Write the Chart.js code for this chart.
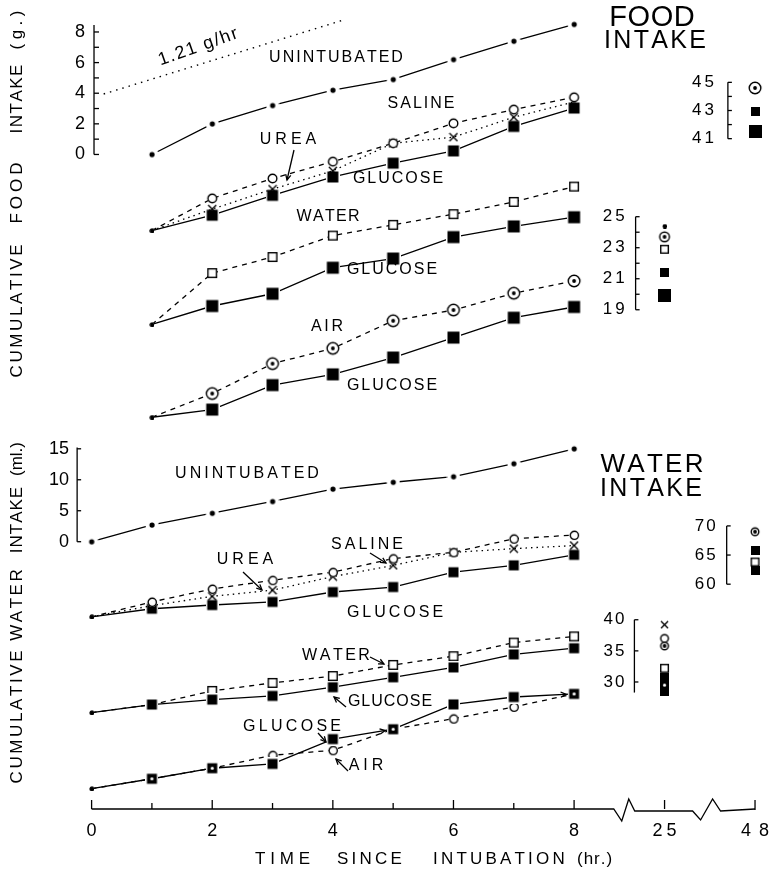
<!DOCTYPE html>
<html><head><meta charset="utf-8">
<script src="https://cdn.jsdelivr.net/npm/chart.js@4.4.0/dist/chart.umd.min.js"></script>
<style>html,body{margin:0;padding:0;background:#fff;overflow:hidden}#wrap{width:773px;height:873px;position:relative}</style>
</head><body><div id="wrap"><canvas id="c" width="773" height="873"></canvas></div>
<script>
// ---------------- DATA ----------------
const foodHours  = [1, 2, 3, 4, 5, 6, 7, 8];
const waterHours = [0, 1, 2, 3, 4, 5, 6, 7, 8];

// Cumulative food intake (g)
const foodUnintubated = [0, 2.0, 3.2, 4.2, 4.9, 6.2, 7.4, 8.5];
const foodSaline      = [0, 2.1, 3.4, 4.5, 5.7, 7.0, 7.9, 8.7];
const foodUrea        = [0, 1.4, 2.7, 3.9, 5.7, 6.1, 7.4, 8.4];
const foodGlucoseA    = [0, 1.0, 2.3, 3.5, 4.4, 5.2, 6.8, 8.0];
const foodWater       = [0, 3.35, 4.4, 5.8, 6.5, 7.2, 8.0, 9.0];
const foodGlucoseB    = [0, 1.2, 2.0, 3.7, 4.3, 5.7, 6.4, 7.0];
const foodAir         = [0, 1.55, 3.5, 4.5, 6.3, 7.0, 8.1, 8.9];
const foodGlucoseC    = [0, 0.5, 2.1, 2.8, 3.9, 5.2, 6.5, 7.2];
// 1.21 g/hr reference line (end points: hour, g)
const foodRateHours  = [0.2, 4.15];
const foodRateValues = [3.95, 8.75];

// Cumulative water intake (ml)
const waterUnintubated = [0, 2.7, 4.6, 6.5, 8.5, 9.6, 10.5, 12.6, 15.0];
const waterSaline      = [0, 2.4, 4.5, 5.9, 7.2, 9.4, 10.4, 12.6, 13.2];
const waterUrea        = [0, 1.8, 3.3, 4.3, 6.5, 8.3, 10.4, 11.0, 11.5];
const waterGlucoseA    = [0, 1.3, 1.9, 2.4, 4.0, 4.8, 7.2, 8.3, 10.0];
const waterWater       = [0, 1.3, 3.5, 4.8, 5.9, 7.7, 9.1, 11.3, 12.3];
const waterGlucoseB    = [0, 1.3, 2.1, 2.7, 4.1, 5.7, 7.3, 9.4, 10.4];
const waterGlucoseC    = [0, 1.6, 3.3, 4.0, 8.0, 9.6, 13.6, 14.8, 15.3];
const waterAir         = [0, 1.6, 3.3, 5.4, 6.2, 9.6, 11.3, 13.2, 15.3];

// 25 hr and 48 hr totals (insets)
const food48Groups  = ['AIR', 'GLUCOSE', 'GLUCOSE'];
const food48Values  = [44.6, 42.9, 41.5];
const food25Groups  = ['UNINTUBATED', 'AIR', 'WATER', 'GLUCOSE', 'GLUCOSE'];
const food25Values  = [24.4, 23.7, 22.9, 21.4, 19.95];
const water48Groups = ['AIR', 'GLUCOSE', 'WATER', 'GLUCOSE'];
const water48Values = [69.0, 65.7, 63.8, 62.3];
const water25Groups = ['UREA', 'SALINE', 'AIR', 'WATER', 'GLUCOSE', 'AIR', 'GLUCOSE'];
const water25Values = [39.2, 37.0, 35.8, 32.2, 30.8, 29.5, 28.4];

// Tick labels
const timeTickHours  = [0, 2, 4, 6, 8, 25, 48];
const foodTicks      = [0, 2, 4, 6, 8];
const waterTicks     = [0, 5, 10, 15];
const food48Ticks    = [41, 43, 45];
const food25Ticks    = [19, 21, 23, 25];
const water48Ticks   = [60, 65, 70];
const water25Ticks   = [30, 35, 40];

// ---------------- LAYOUT ----------------
const W = 773, H = 873;
const X0 = 87.5, PXH = 61.15;                 // pixel of hour 0, pixels per hour
const axisPos = h => h === 25 ? 9.5 : h === 48 ? 11 : h;  // broken time axis
function yScale(zeroPix, k) { return { type: 'linear', display: false, min: -(H - zeroPix) / k, max: zeroPix / k }; }
const scales = {
  x:    { type: 'linear', display: false, min: -X0 / PXH, max: (W - X0) / PXH },
  yF0:  yScale(151, 15.5), yF1: yScale(228, 15.5), yF2: yScale(323, 15.5), yF3: yScale(417, 15.5),
  yF48: yScale(78 + 45 * 14.25, 14.25), yF25: yScale(214 + 25 * 15.7, 15.7),
  yW0:  yScale(543, 6.27), yW1: yScale(619, 6.27), yW2: yScale(716, 6.27), yW3: yScale(793, 6.27),
  yW48: yScale(527 + 70 * 5.9, 5.9), yW25: yScale(622 + 40 * 6.3, 6.3)
};

// ---------------- MARKERS ----------------
function mark(w, fn) { const c = document.createElement('canvas'); c.width = w; c.height = w; const g = c.getContext('2d'); fn(g, w / 2); return c; }
const fillSq = (s, halo) => mark(s + 2 * halo, (g, m) => { g.fillStyle = '#fff'; g.fillRect(0, 0, s + 2 * halo, s + 2 * halo); g.fillStyle = '#000'; g.fillRect(halo, halo, s, s); });
const openSq = s => mark(s + 2, (g, m) => { g.fillStyle = '#fff'; g.fillRect(1, 1, s, s); g.strokeStyle = '#000'; g.lineWidth = 1.4; g.strokeRect(1.7, 1.7, s - 1.4, s - 1.4); });
const openCirc = r => mark(2 * r + 3, (g, m) => { g.fillStyle = '#fff'; g.beginPath(); g.arc(m, m, r, 0, 7); g.fill(); g.strokeStyle = '#000'; g.lineWidth = 1.4; g.beginPath(); g.arc(m, m, r - 0.7, 0, 7); g.stroke(); });
const circDot = r => mark(2 * r + 3, (g, m) => { g.fillStyle = '#fff'; g.beginPath(); g.arc(m, m, r, 0, 7); g.fill(); g.strokeStyle = '#000'; g.lineWidth = 1.4; g.beginPath(); g.arc(m, m, r - 0.7, 0, 7); g.stroke(); g.fillStyle = '#000'; g.beginPath(); g.arc(m, m, 1.9, 0, 7); g.fill(); });
const cross = s => mark(s + 2, (g, m) => { g.strokeStyle = '#000'; g.lineWidth = 1.4; const d = s / 2; g.beginPath(); g.moveTo(m - d, m - d); g.lineTo(m + d, m + d); g.moveTo(m + d, m - d); g.lineTo(m - d, m + d); g.stroke(); });
const dotHalo = (r, h) => mark(2 * (r + h) + 1, (g, m) => { g.fillStyle = '#fff'; g.beginPath(); g.arc(m, m, r + h, 0, 7); g.fill(); g.fillStyle = '#000'; g.beginPath(); g.arc(m, m, r, 0, 7); g.fill(); });
const sqDot = (s, halo) => mark(s + 2 * halo, (g, m) => { g.fillStyle = '#fff'; g.fillRect(0, 0, s + 2 * halo, s + 2 * halo); g.fillStyle = '#000'; g.fillRect(halo, halo, s, s); g.fillStyle = '#fff'; g.beginPath(); g.arc(m, m, 1.6, 0, 7); g.fill(); });
const startDot = dotHalo(2.3, 0);
const uDot = dotHalo(2.6, 4);

function series(hours, vals, yAxisID, marker, dash, extra) {
  return Object.assign({
    data: hours.map((h, i) => ({ x: h, y: vals[i] })),
    yAxisID, borderColor: '#000', borderWidth: 1.3, borderDash: dash || [],
    pointStyle: c => c.dataIndex === 0 ? startDot : marker,
    pointRadius: 3, fill: false, tension: 0
  }, extra || {});
}
function inset(hour, vals, yAxisID, markers) {
  return vals.map((v, i) => ({ data: [{ x: axisPos(hour), y: v }], yAxisID, showLine: false, pointStyle: markers[i], pointRadius: 3 }));
}

// water glucose/air points that coincide are drawn as a black square with a white centre
const wSq = fillSq(10, 1.5), wSqDot = sqDot(10, 1.5);
const datasets = [
  series(foodHours, foodUnintubated, 'yF0', uDot, [], { pointStyle: uDot }),
  series(foodHours, foodSaline, 'yF1', openCirc(5), [5, 5]),
  series(foodHours, foodUrea, 'yF1', cross(8), [1.5, 4]),
  series(foodHours, foodGlucoseA, 'yF1', fillSq(11, 1.5), []),
  series(foodHours, foodWater, 'yF2', openSq(10), [5, 5]),
  series(foodHours, foodGlucoseB, 'yF2', fillSq(12, 1.5), []),
  series(foodHours, foodAir, 'yF3', circDot(6.5), [5, 5]),
  series(foodHours, foodGlucoseC, 'yF3', fillSq(12, 1.5), []),
  { data: foodRateHours.map((h, i) => ({ x: h, y: foodRateValues[i] })), yAxisID: 'yF0', borderColor: '#000', borderWidth: 1.4, borderDash: [1.5, 5], pointRadius: 0 },

  series(waterHours, waterUnintubated, 'yW0', uDot, [], { pointStyle: uDot }),
  series(waterHours, waterSaline, 'yW1', openCirc(4.8), [5, 5]),
  series(waterHours, waterUrea, 'yW1', cross(8), [1.5, 4]),
  series(waterHours, waterGlucoseA, 'yW1', wSq, []),
  series(waterHours, waterGlucoseB, 'yW2', wSq, []),
  series(waterHours, waterWater, 'yW2', openSq(10), [5, 5]),
  series(waterHours, waterGlucoseC, 'yW3', wSq, [], {
    pointStyle: c => c.dataIndex === 0 ? startDot : (waterAir[c.dataIndex] === waterGlucoseC[c.dataIndex] ? wSqDot : wSq)
  }),
  series(waterHours, waterAir, 'yW3', openCirc(4.8), [5, 5]),

  ...inset(48, food48Values, 'yF48', [circDot(6.5), fillSq(9, 0), fillSq(13, 0)]),
  ...inset(25, food25Values, 'yF25', [startDot, circDot(5.5), openSq(9), fillSq(9, 0), fillSq(13, 0)]),
  ...inset(48, water48Values, 'yW48', [circDot(4.5), fillSq(9, 0), openSq(9), fillSq(9, 0)]),
  ...inset(25, water25Values, 'yW25', [cross(7), openCirc(4.5), circDot(4.5), openSq(9), fillSq(9, 0), sqDot(9, 0), fillSq(9, 0)])
];

// ---------------- DRAWING OF AXES & TEXT ----------------
const FAM = '"Liberation Sans", Arial, sans-serif';
function spaced(g, str, x, y, size, spacing, align, rot) {
  g.save(); g.font = size + 'px ' + FAM; g.textBaseline = 'middle'; g.textAlign = 'left'; g.fillStyle = '#000';
  const ch = [...str]; const ws = ch.map(c => g.measureText(c).width);
  const total = ws.reduce((a, b) => a + b, 0) + spacing * (ch.length - 1);
  g.translate(x, y); if (rot) g.rotate(rot);
  let cx = align === 'left' ? 0 : align === 'right' ? -total : -total / 2;
  ch.forEach((c, i) => { g.fillText(c, cx, 0); cx += ws[i] + spacing; });
  g.restore();
}
const figure = {
  id: 'figure',
  afterDraw(chart) {
    const g = chart.ctx, s = chart.scales;
    const X = h => s.x.getPixelForValue(h);
    const Y = (id, v) => s[id].getPixelForValue(v);
    g.save(); g.strokeStyle = '#000'; g.lineWidth = 1.3;
    const line = pts => { g.beginPath(); pts.forEach((p, i) => i ? g.lineTo(p[0], p[1]) : g.moveTo(p[0], p[1])); g.stroke(); };
    const head = (x1, y1, x2, y2, L) => {
      const a = Math.atan2(y2 - y1, x2 - x1);
      line([[x2 - L * Math.cos(a - 0.45), y2 - L * Math.sin(a - 0.45)], [x2, y2], [x2 - L * Math.cos(a + 0.45), y2 - L * Math.sin(a + 0.45)]]);
    };
    const arrow = (x1, y1, x2, y2) => { line([[x1, y1], [x2, y2]]); head(x1, y1, x2, y2, 6); };
    function vAxis(id, xh, from, to, minorStep, labels, tick, gap, size, sp) {
      const xp = X(xh);
      line([[xp, Y(id, from)], [xp, Y(id, to)]]);
      for (let v = Math.min(from, to); v <= Math.max(from, to) + 1e-6; v += minorStep) {
        const yy = Y(id, v); line([[xp, yy], [xp + tick, yy]]);
      }
      labels.forEach(v => spaced(g, String(v), xp - gap, Y(id, v), size, sp, 'right'));
    }
    // main y axes
    vAxis('yF0', 0.04, 0, 8.45, 1, foodTicks, 5, 9, 18, 0);
    vAxis('yW0', -0.24, 0, 15.2, 5, waterTicks, 4, 8, 18, 0);
    // inset axes
    vAxis('yF48', 10.55, 41, 45, 1, food48Ticks, 4, 14, 17, 3);
    vAxis('yF25', 9.02, 19, 25, 1, food25Ticks, 4, 11, 17, 3);
    vAxis('yW48', 10.53, 60, 70, 5, water48Ticks, 4, 11, 17, 2);
    vAxis('yW25', 9.0, 30, 40, 5, water25Ticks, 4, 10, 17, 2);
    { const xp = X(9.0); line([[xp, Y('yW25', 30)], [xp, Y('yW25', 28.3)]]); }

    // arrowheads on the water glucose (air-comparison) curve
    [5, 8].forEach(i => {
      const x1 = X(waterHours[i - 1]), y1 = Y('yW3', waterGlucoseC[i - 1]);
      const x2 = X(waterHours[i]), y2 = Y('yW3', waterGlucoseC[i]);
      const d = Math.hypot(x2 - x1, y2 - y1), f = (d - 8) / d;
      head(x1, y1, x1 + (x2 - x1) * f, y1 + (y2 - y1) * f, 6);
    });

    // bottom time axis with breaks
    const yb = 809;
    const z1 = X(8.84), z2 = X(10.23);
    line([[X(0), yb], [z1 - 11, yb], [z1 - 3, yb + 12], [z1 + 4, yb - 10], [z1 + 10, yb + 2], [z2 - 16, yb + 2],
          [z2 - 8, yb + 11], [z2 + 4, yb - 10], [z2 + 12, yb + 2], [X(11), yb]]);
    for (let h = 0; h <= 8; h++) line([[X(h), yb], [X(h), yb - (h % 2 ? 6 : 9)]]);
    line([[X(9.5), yb], [X(9.5), yb - 9]]);
    line([[X(11), yb + 1], [X(11), yb - 9]]);
    timeTickHours.forEach(h => spaced(g, String(h), X(axisPos(h)), 831, 18, h === 48 ? 8 : h === 25 ? 4 : 0, 'center'));
    spaced(g, 'TIME', 255, 859, 17, 4.8, 'left');
    spaced(g, 'SINCE', 337, 859, 17, 3.2, 'left');
    spaced(g, 'INTUBATION', 433, 859, 17, 3.2, 'left');
    spaced(g, '(hr.)', 577, 859, 17, 1, 'left');

    // vertical titles
    const R = -Math.PI / 2;
    spaced(g, 'CUMULATIVE', 17, 311, 17, 2.6, 'center', R);
    spaced(g, 'FOOD', 17, 193, 17, 4, 'center', R);
    spaced(g, 'INTAKE', 17, 99, 17, 1.5, 'center', R);
    spaced(g, '(g.)', 17, 30, 17, 4.5, 'center', R);
    spaced(g, 'CUMULATIVE', 17, 717, 17, 2.6, 'center', R);
    spaced(g, 'WATER', 17, 605, 17, 2.5, 'center', R);
    spaced(g, 'INTAKE', 17, 520, 17, 1, 'center', R);
    spaced(g, '(ml.)', 17, 459, 17, 0, 'center', R);

    // panel titles
    spaced(g, 'FOOD', 652, 18, 29, 0.5, 'center');
    spaced(g, 'INTAKE', 655, 41, 25, 2.3, 'center');
    spaced(g, 'WATER', 652, 465, 26, 2.3, 'center');
    spaced(g, 'INTAKE', 651, 489, 25, 2.3, 'center');

    // curve labels (food)
    spaced(g, '1.21 g/hr', 198, 47, 18, 1.5, 'center', -0.34);
    spaced(g, 'UNINTUBATED', 336, 58, 16, 2, 'center');
    spaced(g, 'SALINE', 421, 104, 16, 2, 'center');
    spaced(g, 'UREA', 288, 140, 16, 4, 'center');
    arrow(294, 150, 287, 180);
    spaced(g, 'GLUCOSE', 398, 179, 16, 2, 'center');
    spaced(g, 'WATER', 328, 217, 16, 1.3, 'center');
    spaced(g, 'GLUCOSE', 392, 270, 16, 2, 'center');
    spaced(g, 'AIR', 327, 327, 16, 2.6, 'center');
    spaced(g, 'GLUCOSE', 392, 386, 16, 2, 'center');

    // curve labels (water)
    spaced(g, 'UNINTUBATED', 247, 474, 16, 3, 'center');
    spaced(g, 'SALINE', 367, 545, 16, 3, 'center');
    arrow(370, 553, 386, 563);
    spaced(g, 'UREA', 245, 560, 16, 4, 'center');
    arrow(243, 572, 262, 590);
    spaced(g, 'GLUCOSE', 395, 613, 16, 3, 'center');
    spaced(g, 'WATER', 336, 656, 16, 2.5, 'center');
    arrow(370, 657, 384, 664);
    spaced(g, 'GLUCOSE', 390, 702, 16, 1, 'center');
    arrow(346, 707, 334, 697);
    spaced(g, 'GLUCOSE', 292, 727, 16, 3.3, 'center');
    arrow(318, 733, 326, 742);
    spaced(g, 'AIR', 366, 766, 16, 4, 'center');
    arrow(348, 771, 336, 759);
    g.restore();
  }
};

new Chart(document.getElementById('c'), {
  type: 'line',
  data: { datasets },
  options: {
    responsive: false, animation: false, events: [],
    layout: { padding: 0 },
    plugins: { legend: { display: false }, tooltip: { enabled: false } },
    scales
  },
  plugins: [figure]
});
</script></body></html>
